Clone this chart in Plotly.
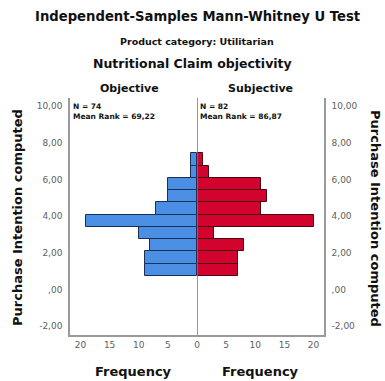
import plotly.graph_objects as go

# ---- data ----
bin_centers = [1.083, 1.750, 2.417, 3.083, 3.750, 4.417, 5.083, 5.750, 6.417, 7.083]
bin_width = 0.667
objective_counts = [9, 9, 8, 10, 19, 7, 5, 5, 1, 1]
subjective_counts = [7, 7, 8, 3, 20, 11, 12, 11, 2, 1]
y_tick_vals = [-2, 0, 2, 4, 6, 8, 10]
y_tick_text = ["-2,00", ",00", "2,00", "4,00", "6,00", "8,00", "10,00"]
x_left_ticks = [0, 5, 10, 15, 20]
x_right_ticks = [5, 10, 15, 20]
group_names = ["Objective", "Subjective"]
group_n = [74, 82]
group_mean_rank = ["69,22", "86,87"]

W, H = 385, 381
L, R, T, B = 70, 324, 98, 335
FONT = "DejaVu Sans"

def px(x):
    return (x - L) / (R - L)

def py(y):
    return (B - y) / (B - T)

fig = go.Figure()
fig.add_trace(go.Bar(
    y=bin_centers, x=objective_counts, orientation="h", width=bin_width,
    marker=dict(color="#4a8fe4", line=dict(color="#1b2f55", width=1)),
    xaxis="x", yaxis="y", showlegend=False))
fig.add_trace(go.Bar(
    y=bin_centers, x=subjective_counts, orientation="h", width=bin_width,
    marker=dict(color="#d2042d", line=dict(color="#4a0512", width=1)),
    xaxis="x2", yaxis="y2", showlegend=False))

xmax = 21.8
axis_line = "#9a9a9a"
tickfont = dict(family=FONT, size=9, color="#606060")

fig.update_layout(
    width=W, height=H,
    margin=dict(l=L, r=W - R, t=T, b=H - B),
    paper_bgcolor="white", plot_bgcolor="white",
    bargap=0,
    xaxis=dict(domain=[0, 0.5], range=[xmax, 0], tickvals=x_left_ticks,
               showgrid=False, zeroline=False, showline=True, linecolor=axis_line,
               linewidth=1.5, ticks="", tickfont=tickfont, anchor="y"),
    xaxis2=dict(domain=[0.5, 1], range=[0, xmax], tickvals=x_right_ticks,
                showgrid=False, zeroline=False, showline=True, linecolor=axis_line,
                linewidth=1.5, ticks="", tickfont=tickfont, anchor="y2"),
    yaxis=dict(range=[-2.48, 10.44], tickvals=y_tick_vals, ticktext=y_tick_text,
               showgrid=False, zeroline=False, showline=True, linecolor=axis_line,
               linewidth=1.5, ticks="", tickfont=tickfont, anchor="x", side="left",
               ticklabelstandoff=4),
    yaxis2=dict(range=[-2.48, 10.44], tickvals=y_tick_vals, ticktext=y_tick_text,
                matches="y", showgrid=False, zeroline=False, showline=True,
                linecolor=axis_line, linewidth=1.5, ticks="", tickfont=tickfont,
                anchor="x2", side="right", ticklabelstandoff=4),
)

# center line
fig.add_shape(type="line", xref="x2", yref="paper", x0=0, x1=0, y0=0, y1=1,
              line=dict(color="#7a7a7a", width=1.5))

def ann(text, x, y, size, xanchor="center", yanchor="middle", angle=0,
        color="#111111", align="center"):
    fig.add_annotation(text=text, xref="paper", yref="paper", x=px(x), y=py(y),
                       xanchor=xanchor, yanchor=yanchor, showarrow=False, align=align,
                       textangle=angle, font=dict(family=FONT, size=size, color=color))

ann("<b>Independent-Samples Mann-Whitney U Test</b>", 197.5, 16.7, 13.2)
ann("<b>Product category: Utilitarian</b>", 197, 41.7, 9.5)
ann("<b>Nutritional Claim objectivity</b>", 192, 63.3, 12.5)
ann("<b>%s</b>" % group_names[0], 129, 88, 11)
ann("<b>%s</b>" % group_names[1], 260, 88, 11)
ann("<b>N = %d<br>Mean Rank = %s</b>" % (group_n[0], group_mean_rank[0]), 71, 100, 7.5,
    xanchor="left", yanchor="top", align="left")
ann("<b>N = %d<br>Mean Rank = %s</b>" % (group_n[1], group_mean_rank[1]), 198, 100, 7.5,
    xanchor="left", yanchor="top", align="left")
ann("<b>Purchase Intention computed</b>", 17, 218, 13, angle=-90)
ann("<b>Purchase Intention computed</b>", 376, 218, 13, angle=90)
ann("<b>Frequency</b>", 133, 371, 13)
ann("<b>Frequency</b>", 260, 371, 13)

fig.write_html("out.html")
